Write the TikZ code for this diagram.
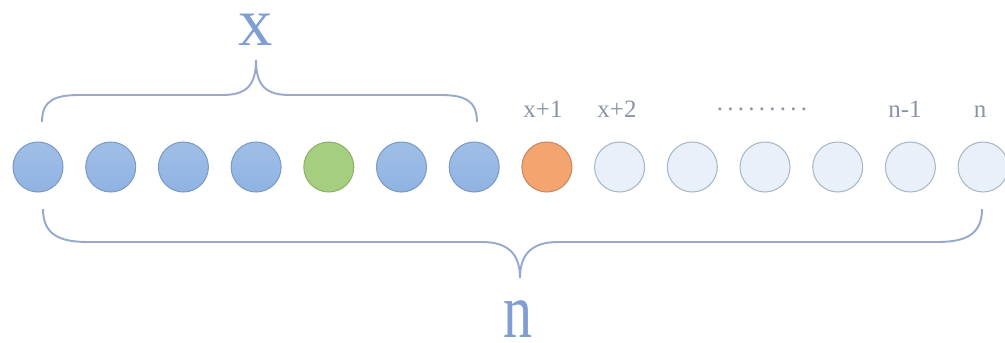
\documentclass[tikz,border=0pt]{standalone}
\usepackage{fontspec}
\setmainfont{Liberation Serif}
\usetikzlibrary{positioning}

\definecolor{ballblue}{HTML}{8FB3E2}
\definecolor{ballblueedge}{HTML}{7C9BC6}
\definecolor{ballgreen}{HTML}{A5CF7E}
\definecolor{ballgreenedge}{HTML}{8DB36A}
\definecolor{ballorange}{HTML}{F4A46E}
\definecolor{ballorangeedge}{HTML}{C58A62}
\definecolor{ballpale}{HTML}{E9F0F9}
\definecolor{ballpaleedge}{HTML}{A9B8C4}
\definecolor{bracecol}{HTML}{97A9CC}
\definecolor{bigtext}{HTML}{7F9ED3}
\definecolor{smalltext}{HTML}{8C93A8}

\tikzset{
  ball/.style={circle,minimum size=1cm,inner sep=0pt,line width=0.6pt},
  ballb/.style={ball,draw=ballblueedge,top color=ballblue!85!white,bottom color=ballblue},
  ballg/.style={ball,draw=ballgreenedge,fill=ballgreen},
  ballo/.style={ball,draw=ballorangeedge,fill=ballorange},
  ballp/.style={ball,draw=ballpaleedge,fill=ballpale},
  brace/.style={draw=bracecol,line width=1.1pt},
  lbl/.style={anchor=base,text=smalltext,inner sep=0pt,font=\fontsize{14.2}{17}\selectfont},
  biglbl/.style={anchor=base,text=bigtext,inner sep=0pt,text height=0.47em,text depth=0pt}
}

\begin{document}
\begin{tikzpicture}[x=0.02cm,y=-0.02cm]
  \useasboundingbox (0,0) rectangle (1005,342);
  % the row of balls
  \foreach \i/\st in {1/ballb,2/ballb,3/ballb,4/ballb,5/ballg,6/ballb,7/ballb,
                      8/ballo,9/ballp,10/ballp,11/ballp,12/ballp,13/ballp,14/ballp}
    \node[\st] (c\i) at ({38+72.7*(\i-1)},167) {};
  % labels over the right part
  \node[lbl] (l1) at (543,117) {x+1};
  \node[lbl] (l2) at (617,117) {x+2};
  \node[lbl] (ldots) at (762,110) {\addfontfeature{LetterSpace=17}.........};
  \node[lbl] (ln1) at (905,117) {n-1};
  \node[lbl] (ln) at (980,117) {n};
  % top brace and x
  \draw[brace] (42,122) .. controls (42,100) and (55,95) .. (80,95) -- (222,95)
    .. controls (246,95) and (256,86) .. (256,60);
  \draw[brace] (477,122) .. controls (477,100) and (464,95) .. (440,95) -- (290,95)
    .. controls (266,95) and (256,86) .. (256,60);
  \node[biglbl,font=\fontsize{39}{44}\selectfont] (x) at (256,45) {x};
  % bottom brace and n
  \draw[brace] (43,209) .. controls (43,235) and (60,242) .. (88,242) -- (482,242)
    .. controls (508,242) and (520,254) .. (520,278);
  \draw[brace] (982,209) .. controls (982,235) and (965,242) .. (937,242) -- (558,242)
    .. controls (532,242) and (520,254) .. (520,278);
  \node[biglbl,font=\fontsize{33}{40}\selectfont,text height=0.63em] (n) at (518,337) {\scalebox{1}[1.35]{n}};
\end{tikzpicture}
\end{document}
